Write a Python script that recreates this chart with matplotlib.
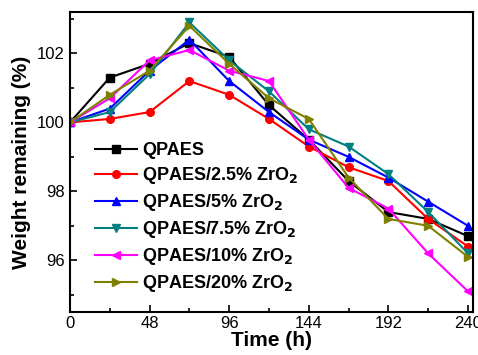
import matplotlib
matplotlib.use("Agg")
import matplotlib.pyplot as plt
from matplotlib.ticker import MultipleLocator

plt.rcParams['font.family'] = ['Liberation Sans', 'DejaVu Sans']
plt.rcParams['mathtext.default'] = 'bf'

time_h = [0, 24, 48, 72, 96, 120, 144, 168, 192, 216, 240]
qpaes = [100.0, 101.3, 101.7, 102.3, 101.9, 100.5, 99.5, 98.3, 97.4, 97.2, 96.7]
zr2_5 = [100.0, 100.1, 100.3, 101.2, 100.8, 100.1, 99.3, 98.7, 98.3, 97.2, 96.4]
zr5 = [100.0, 100.4, 101.5, 102.4, 101.2, 100.3, 99.5, 99.0, 98.4, 97.7, 97.0]
zr7_5 = [100.0, 100.3, 101.4, 102.9, 101.8, 100.9, 99.8, 99.3, 98.5, 97.4, 96.2]
zr10 = [100.0, 100.7, 101.8, 102.1, 101.5, 101.2, 99.5, 98.1, 97.5, 96.2, 95.1]
zr20 = [100.0, 100.8, 101.5, 102.8, 101.7, 100.7, 100.1, 98.4, 97.2, 97.0, 96.1]

series = [
    ("QPAES", qpaes, "black", "s"),
    ("QPAES/2.5% ZrO$_\\mathbf{2}$", zr2_5, "red", "o"),
    ("QPAES/5% ZrO$_\\mathbf{2}$", zr5, "blue", "^"),
    ("QPAES/7.5% ZrO$_\\mathbf{2}$", zr7_5, "#008080", "v"),
    ("QPAES/10% ZrO$_\\mathbf{2}$", zr10, "magenta", "<"),
    ("QPAES/20% ZrO$_\\mathbf{2}$", zr20, "#808000", ">"),
]

fig = plt.figure(figsize=(4.78, 3.55), dpi=100)
ax = fig.add_axes([0.1464, 0.1211, 0.8431, 0.8449])

for label, vals, color, marker in series:
    ax.plot(time_h, vals, color=color, marker=marker, markersize=5.5, linewidth=1.5, label=label)

ax.set_xlim(0, 243)
ax.set_ylim(94.5, 103.2)
ax.xaxis.set_major_locator(MultipleLocator(48))
ax.xaxis.set_minor_locator(MultipleLocator(24))
ax.yaxis.set_major_locator(MultipleLocator(2))
ax.yaxis.set_minor_locator(MultipleLocator(1))
ax.tick_params(which='both', direction='in', top=False, right=False, labelsize=12, width=1.2)
ax.tick_params(which='major', length=5)
ax.tick_params(axis='x', which='major', pad=3)
ax.tick_params(axis='y', which='major', pad=4)
ax.tick_params(which='minor', length=3)
for s in ax.spines.values():
    s.set_linewidth(1.5)

ax.set_xlabel("Time (h)", fontsize=15, fontweight='bold', labelpad=0)
ax.set_ylabel("Weight remaining (%)", fontsize=15, fontweight='bold', labelpad=4)

leg = ax.legend(loc='upper left', bbox_to_anchor=(0.045, 0.59), frameon=False,
                prop={'weight': 'bold', 'size': 13}, handlelength=2.3,
                labelspacing=0.33, handletextpad=0.3, borderaxespad=0)

fig.savefig("out.png", dpi=100)
